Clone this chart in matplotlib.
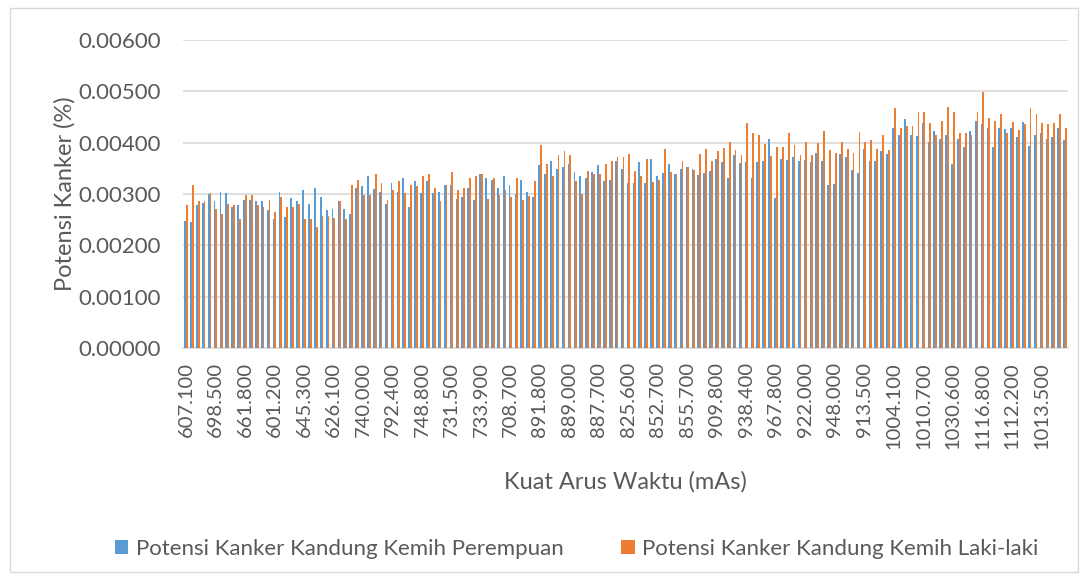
import matplotlib.pyplot as plt
import matplotlib.patches as patches
import numpy as np

plt.rcParams['font.family'] = ['Lato', 'DejaVu Sans']

# tick labels shown on the x axis (every 5th category)
tick_labels = ['607.100', '698.500', '661.800', '601.200', '645.300', '626.100',
               '740.000', '792.400', '748.800', '731.500', '733.900', '708.700',
               '891.800', '889.000', '887.700', '825.600', '852.700', '855.700',
               '909.800', '938.400', '967.800', '922.000', '948.000', '913.500',
               '1004.100', '1010.700', '1030.600', '1116.800', '1112.200', '1013.500']

perempuan = [
    0.00248, 0.00246, 0.00278, 0.00282, 0.00300, 0.00286, 0.00304, 0.00302, 0.00275, 0.00278,
    0.00289, 0.00289, 0.00286, 0.00286, 0.00269, 0.00251, 0.00304, 0.00255, 0.00293, 0.00286,
    0.00308, 0.00281, 0.00312, 0.00295, 0.00269,
    0.00271, 0.00286, 0.00271, 0.00261, 0.00312, 0.00316, 0.00335, 0.00310, 0.00304, 0.00280,
    0.00322, 0.00304, 0.00331, 0.00275, 0.00325, 0.00302, 0.00325, 0.00302, 0.00304, 0.00318,
    0.00318, 0.00291, 0.00295, 0.00312, 0.00289,
    0.00339, 0.00331, 0.00328, 0.00312, 0.00335, 0.00318, 0.00300, 0.00328, 0.00304, 0.00295,
    0.00356, 0.00339, 0.00365, 0.00348, 0.00352, 0.00359, 0.00342, 0.00335, 0.00331, 0.00342,
    0.00356, 0.00325, 0.00328, 0.00365, 0.00348,
    0.00322, 0.00322, 0.00362, 0.00322, 0.00369, 0.00335, 0.00341, 0.00359, 0.00339, 0.00348,
    0.00352, 0.00348, 0.00337, 0.00341, 0.00344, 0.00369, 0.00362, 0.00331, 0.00376, 0.00361,
    0.00363, 0.00331, 0.00362, 0.00365, 0.00407,
    0.00292, 0.00369, 0.00366, 0.00372, 0.00364, 0.00367, 0.00362, 0.00380, 0.00365, 0.00318,
    0.00320, 0.00378, 0.00372, 0.00346, 0.00341, 0.00388, 0.00364, 0.00364, 0.00384, 0.00378,
    0.00429, 0.00415, 0.00446, 0.00415, 0.00413,
    0.00439, 0.00401, 0.00423, 0.00408, 0.00415, 0.00359, 0.00408, 0.00392, 0.00423, 0.00442,
    0.00436, 0.00428, 0.00392, 0.00428, 0.00426, 0.00428, 0.00411, 0.00441, 0.00393, 0.00414,
    0.00418, 0.00408, 0.00411, 0.00428, 0.00405,
]

laki_laki = [
    0.00278, 0.00318, 0.00286, 0.00286, 0.00302, 0.00271, 0.00261, 0.00281, 0.00278, 0.00251,
    0.00299, 0.00299, 0.00278, 0.00275, 0.00289, 0.00265, 0.00295, 0.00275, 0.00275, 0.00281,
    0.00251, 0.00251, 0.00235, 0.00258, 0.00258,
    0.00253, 0.00286, 0.00252, 0.00317, 0.00328, 0.00299, 0.00299, 0.00339, 0.00322, 0.00289,
    0.00308, 0.00325, 0.00302, 0.00318, 0.00315, 0.00335, 0.00339, 0.00312, 0.00286, 0.00318,
    0.00342, 0.00308, 0.00312, 0.00331, 0.00335,
    0.00339, 0.00291, 0.00331, 0.00299, 0.00308, 0.00295, 0.00331, 0.00289, 0.00297, 0.00325,
    0.00395, 0.00359, 0.00335, 0.00376, 0.00384, 0.00376, 0.00325, 0.00300, 0.00344, 0.00339,
    0.00339, 0.00359, 0.00365, 0.00372, 0.00372,
    0.00378, 0.00344, 0.00335, 0.00369, 0.00323, 0.00327, 0.00388, 0.00342, 0.00339, 0.00365,
    0.00352, 0.00346, 0.00378, 0.00388, 0.00365, 0.00384, 0.00390, 0.00402, 0.00385, 0.00376,
    0.00439, 0.00418, 0.00415, 0.00398, 0.00374,
    0.00392, 0.00392, 0.00418, 0.00395, 0.00376, 0.00401, 0.00376, 0.00399, 0.00423, 0.00386,
    0.00379, 0.00401, 0.00387, 0.00379, 0.00420, 0.00401, 0.00405, 0.00387, 0.00415, 0.00386,
    0.00467, 0.00429, 0.00433, 0.00433, 0.00459,
    0.00459, 0.00439, 0.00415, 0.00442, 0.00469, 0.00459, 0.00418, 0.00418, 0.00415, 0.00459,
    0.00498, 0.00448, 0.00442, 0.00456, 0.00418, 0.00441, 0.00425, 0.00436, 0.00467, 0.00456,
    0.00439, 0.00436, 0.00439, 0.00456, 0.00429,
]

blue = '#5B9BD5'
orange = '#ED7D31'
grid_col = '#D9D9D9'
text_col = '#595959'

fig = plt.figure(figsize=(10.88, 5.8), dpi=100)
ax = fig.add_axes([183 / 1088, 1 - 348 / 580, 885 / 1088, 308 / 580])

x = np.arange(len(perempuan))
w = 0.31
ax.bar(x - w / 2, perempuan, w, color=blue, label='Potensi Kanker Kandung Kemih Perempuan', zorder=3)
ax.bar(x + w / 2, laki_laki, w, color=orange, label='Potensi Kanker Kandung Kemih Laki-laki', zorder=3)

ax.set_xlim(-0.5, len(perempuan) - 0.5)
ax.set_ylim(0, 0.006)
ax.set_yticks(np.arange(0, 0.0061, 0.001))
ax.set_yticklabels(['%.5f' % v for v in np.arange(0, 0.0061, 0.001)])
ax.set_xticks(x[::5])
ax.set_xticklabels(tick_labels, rotation=90)

ax.grid(axis='y', color=grid_col, linewidth=1.2, zorder=0)
for s in ['top', 'right', 'left']:
    ax.spines[s].set_visible(False)
ax.spines['bottom'].set_color(grid_col)
ax.spines['bottom'].set_linewidth(1.2)
ax.tick_params(axis='both', length=0, colors=text_col)
ax.tick_params(axis='y', pad=16, labelsize=16)
ax.tick_params(axis='x', pad=10, labelsize=14.5)

ax.set_ylabel('Potensi Kanker (%)', fontsize=17, color=text_col, labelpad=2)
ax.set_xlabel('Kuat Arus Waktu (mAs)', fontsize=17, color=text_col, labelpad=16)

fig.legend(loc='center', bbox_to_anchor=(0.53, 0.053), ncol=2, frameon=False,
           handlelength=0.6, handleheight=0.6, handletextpad=0.35, columnspacing=2.6,
           prop={'size': 16}, labelcolor=text_col)

fig.patches.append(patches.Rectangle((10 / 1088, 8 / 580), 1068 / 1088, 564 / 580,
                                     transform=fig.transFigure, fill=False,
                                     edgecolor=grid_col, linewidth=1))

fig.savefig('out.png', dpi=100)
